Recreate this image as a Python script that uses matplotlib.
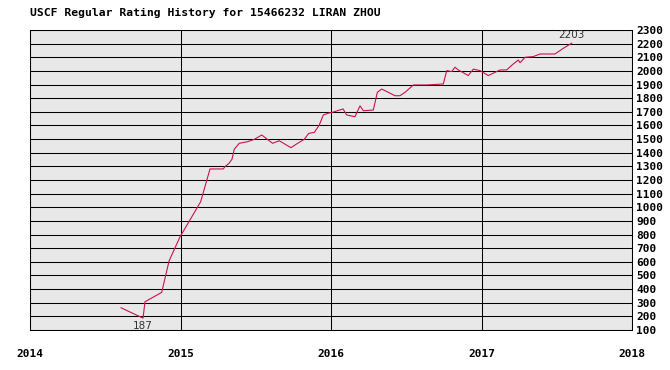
import matplotlib
matplotlib.use("Agg")
import matplotlib.pyplot as plt

# rating history (decimal year, rating)
years = [2014.605, 2014.751, 2014.764, 2014.875, 2014.924, 2014.957, 2014.997,
         2015.063, 2015.134, 2015.196, 2015.284, 2015.296, 2015.322, 2015.342,
         2015.357, 2015.390, 2015.446, 2015.490, 2015.540, 2015.568, 2015.612,
         2015.656, 2015.734, 2015.778, 2015.822, 2015.852, 2015.889, 2015.922,
         2015.949, 2015.979, 2016.008, 2016.080, 2016.104, 2016.159, 2016.193,
         2016.215, 2016.281, 2016.308, 2016.337, 2016.381, 2016.425, 2016.458,
         2016.492, 2016.547, 2016.636, 2016.746, 2016.769, 2016.802, 2016.824,
         2016.846, 2016.912, 2016.946, 2016.990, 2017.045, 2017.123, 2017.167,
         2017.211, 2017.245, 2017.256, 2017.289, 2017.344, 2017.389, 2017.488,
         2017.544, 2017.599]
ratings = [263, 187, 307, 376, 606, 687, 784,
           907, 1041, 1281, 1281, 1298, 1322, 1352,
           1425, 1469, 1481, 1498, 1530, 1506, 1469,
           1488, 1437, 1469, 1498, 1542, 1549, 1603,
           1677, 1689, 1696, 1721, 1677, 1664, 1744,
           1708, 1713, 1843, 1867, 1843, 1818, 1818,
           1843, 1897, 1897, 1904, 2002, 1995, 2027,
           2007, 1966, 2013, 2002, 1966, 2007, 2007,
           2051, 2080, 2060, 2100, 2105, 2124, 2124,
           2166, 2203]

year_ticks = [2014, 2015, 2016, 2017, 2018]
rating_ticks = list(range(100, 2301, 100))
title = "USCF Regular Rating History for 15466232 LIRAN ZHOU"

fig = plt.figure(figsize=(6.7, 3.7), dpi=100)
ax = fig.add_axes([30 / 670, 40 / 370, 602 / 670, 300 / 370])
ax.set_facecolor("#e8e8e8")

ax.set_xlim(2014, 2018)
ax.set_ylim(100, 2300)

# grid, 1px black lines
for r in rating_ticks:
    ax.axhline(r, color="black", lw=0.75, zorder=1)
for y in year_ticks:
    ax.axvline(y, color="black", lw=0.75, zorder=1)

ax.plot(years, ratings, color="#cc1150", lw=0.8, zorder=3)

# low / high labels
lo = ratings.index(min(ratings))
ax.text(years[lo], ratings[lo] - 20, str(ratings[lo]), ha="center", va="top",
        fontsize=7.5, family="DejaVu Sans", color="#333333")
ax.text(years[-1], ratings[-1] + 20, str(ratings[-1]), ha="center", va="bottom",
        fontsize=7.5, family="DejaVu Sans", color="#333333")

ax.yaxis.tick_right()
ax.set_yticks(rating_ticks)
ax.set_yticklabels([str(r) for r in rating_ticks], family="DejaVu Sans Mono",
                   fontweight="bold", fontsize=8)
ax.set_xticks(year_ticks)
ax.set_xticklabels([str(y) for y in year_ticks], family="DejaVu Sans Mono",
                   fontweight="bold", fontsize=8)
ax.tick_params(axis="y", length=0, pad=3)
ax.tick_params(axis="x", length=0, pad=14)
for s in ax.spines.values():
    s.set_color("black")
    s.set_linewidth(0.75)

fig.text(30 / 670, 1 - 13 / 370, title, ha="left", va="center",
         family="DejaVu Sans Mono", fontweight="bold", fontsize=8.2)

fig.savefig("out.png", dpi=100)
